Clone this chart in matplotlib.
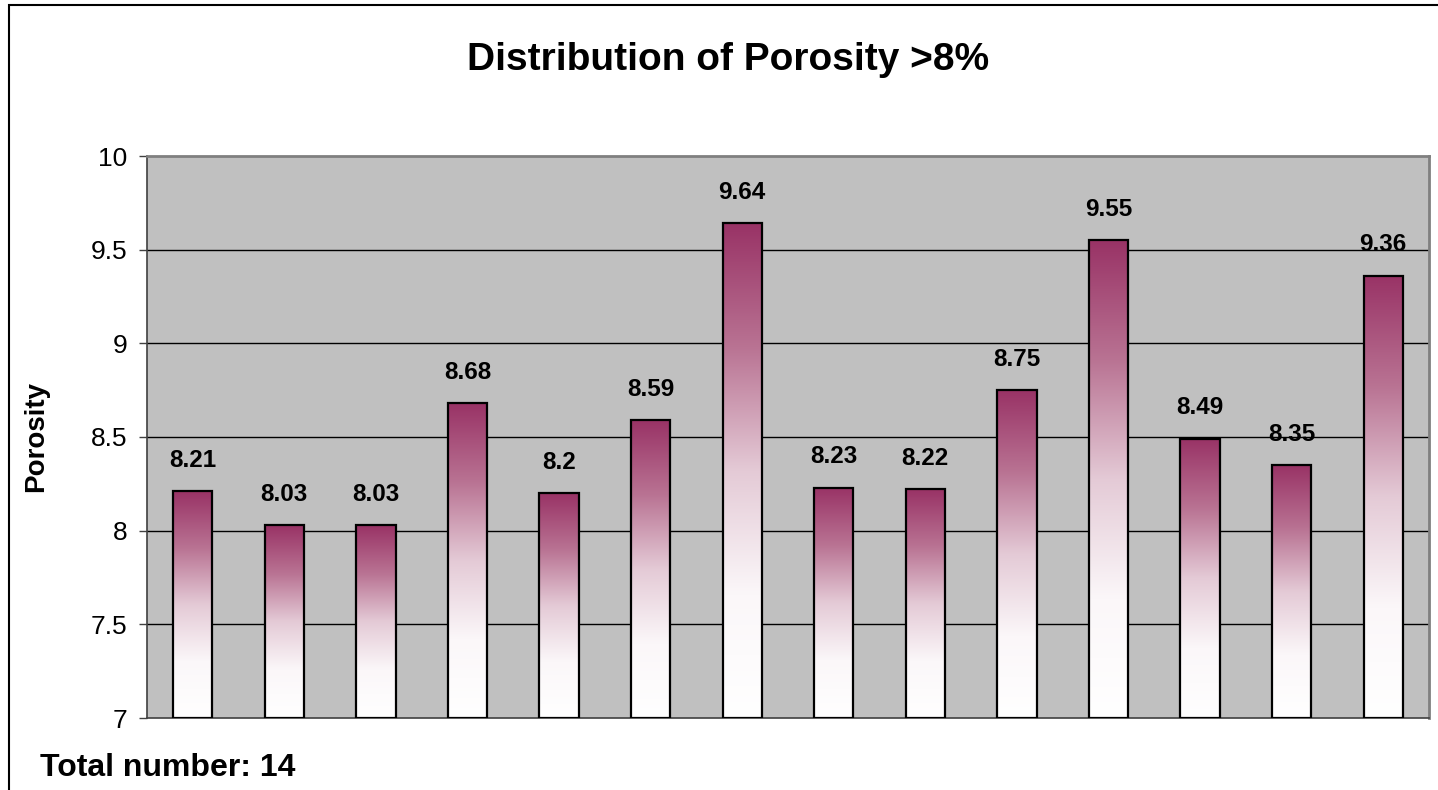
import matplotlib
matplotlib.use("Agg")
import matplotlib.pyplot as plt
import numpy as np
from matplotlib.colors import LinearSegmentedColormap
from matplotlib.patches import Rectangle

values = [8.21, 8.03, 8.03, 8.68, 8.2, 8.59, 9.64, 8.23, 8.22, 8.75, 9.55, 8.49, 8.35, 9.36]
labels = ["8.21", "8.03", "8.03", "8.68", "8.2", "8.59", "9.64", "8.23", "8.22", "8.75", "9.55", "8.49", "8.35", "9.36"]
yticks = [7, 7.5, 8, 8.5, 9, 9.5, 10]
ytick_labels = ["7", "7.5", "8", "8.5", "9", "9.5", "10"]

plt.rcParams['font.family'] = ['Liberation Sans', 'DejaVu Sans']

W, H = 1438, 790
fig = plt.figure(figsize=(W/100, H/100), dpi=100)
ax = fig.add_axes([147/W, 1-718/H, (1429-147)/W, (718-156)/H])
ax.set_facecolor('#C0C0C0')

x = np.arange(len(values))
ymin = 7
ax.set_xlim(-0.5, len(values)-0.5)
ax.set_ylim(7, 10)

for yt in yticks[1:-1]:
    ax.axhline(yt, color='black', lw=1.0, zorder=1)

cmap = LinearSegmentedColormap.from_list('g', ['#FFFFFF', '#FBF7F9', '#E4CAD6', '#B97393', '#993366'], N=256)
grad = np.linspace(0, 1, 256).reshape(-1, 1)
bw = 0.43
bars = ax.bar(x, [v - ymin for v in values], bottom=ymin, width=bw,
              facecolor='none', edgecolor='black', linewidth=1.6, zorder=3)
for b, v in zip(bars, values):
    x0 = b.get_x()
    im = ax.imshow(grad, cmap=cmap, origin='lower', aspect='auto',
                   extent=[x0, x0 + bw, ymin, v], zorder=2, interpolation='bilinear')
    im.set_clip_path(b)

for xi, v, lab in zip(x, values, labels):
    ax.annotate(lab, (xi, v), xytext=(0, 14), textcoords='offset points',
                ha='center', va='bottom', fontsize=17.5, fontweight='bold')

ax.set_xlim(-0.5, len(values)-0.5)
ax.set_ylim(7, 10)
ax.set_yticks(yticks)
ax.set_yticklabels(ytick_labels, fontsize=19)
ax.set_xticks([])
ax.tick_params(axis='y', direction='out', length=6, width=1, color='#404040', pad=8)

for s in ['top', 'right']:
    ax.spines[s].set_color('#808080')
    ax.spines[s].set_linewidth(2)
ax.spines['left'].set_color('#404040')
ax.spines['bottom'].set_color('#404040')
ax.spines['left'].set_linewidth(1.2)
ax.spines['bottom'].set_linewidth(1.2)

ax.set_ylabel('Porosity', fontsize=20, fontweight='bold', labelpad=30)

fig.text(728/W, 1-60/H, 'Distribution of Porosity >8%', ha='center', va='center',
         fontsize=28, fontweight='bold')
fig.text(40/W, 1-768/H, 'Total number: 14', ha='left', va='center',
         fontsize=23, fontweight='bold')

border = Rectangle((9/W, -0.1), 1.2, 1 - 5/H + 0.1, transform=fig.transFigure,
                   fill=False, edgecolor='black', lw=1.5)
fig.add_artist(border)

fig.savefig('out.png', dpi=100)
